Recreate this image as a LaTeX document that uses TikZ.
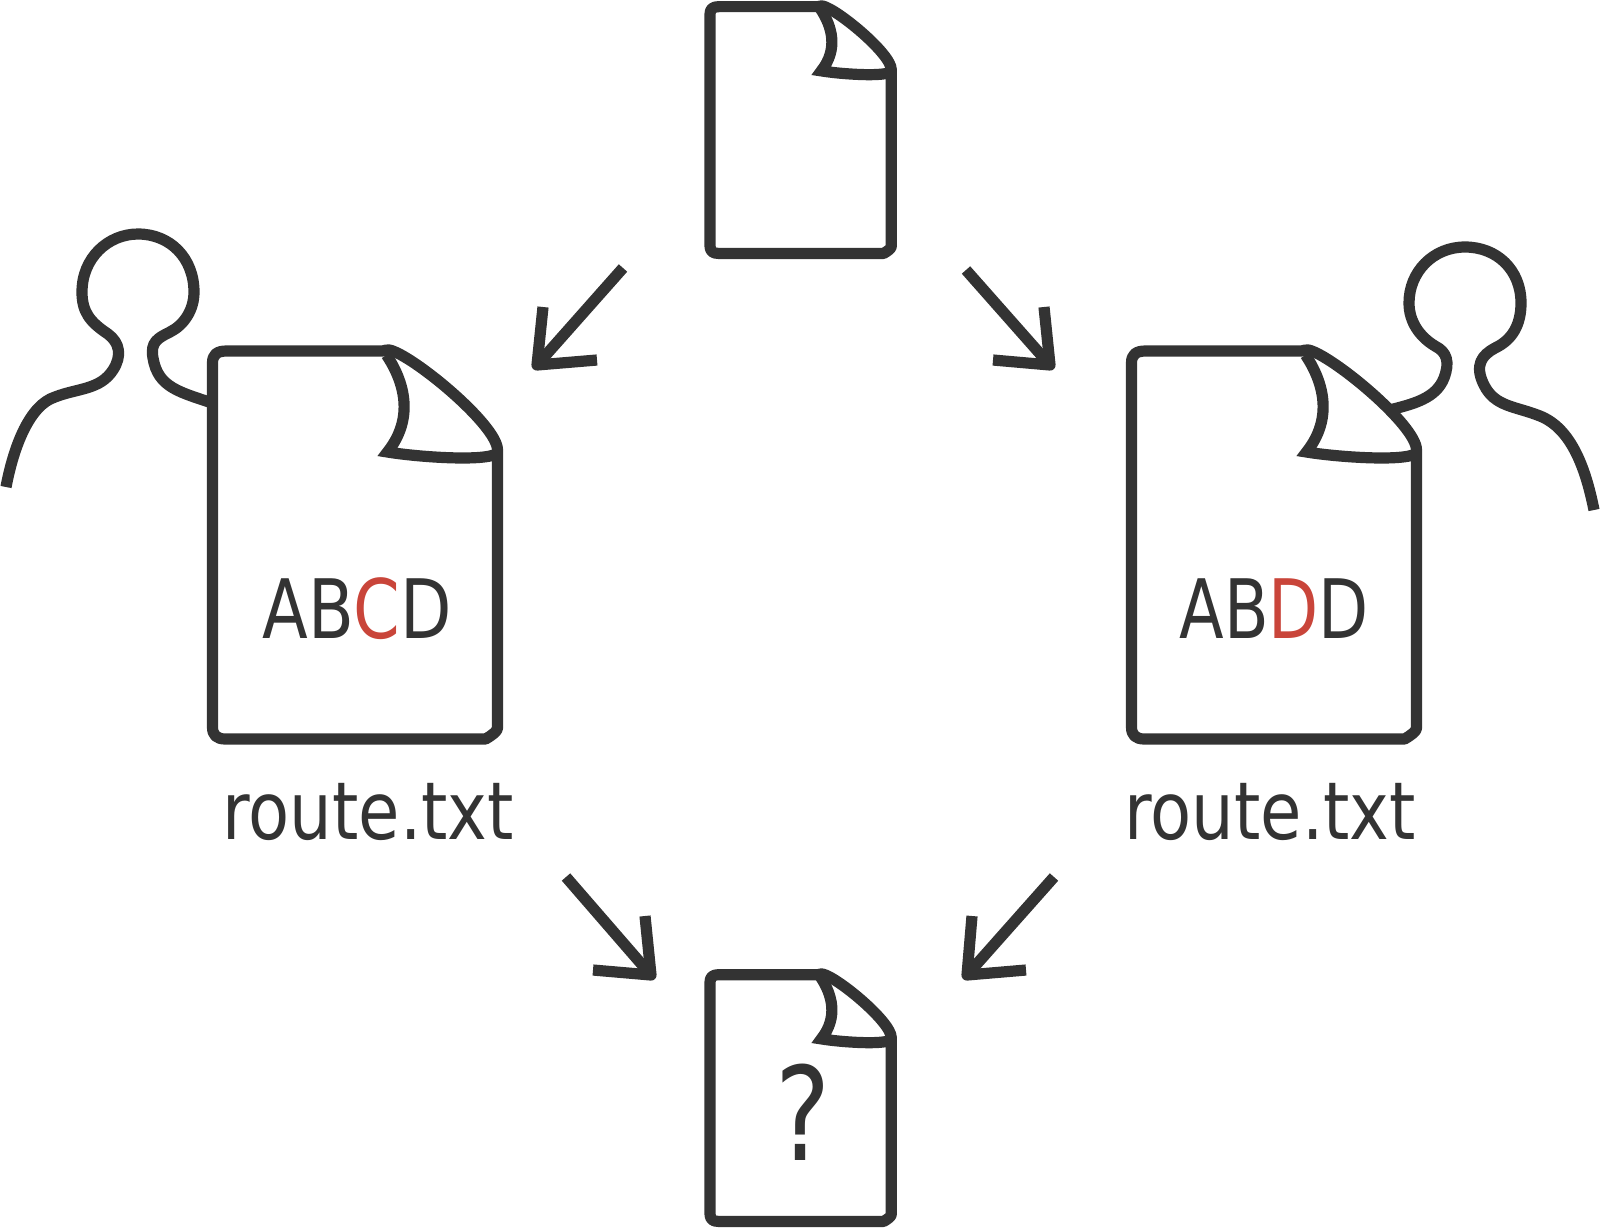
\documentclass[tikz,border=0pt]{standalone}
\usepackage{fontspec}
\setmainfont{DejaVu Sans}
\definecolor{ink}{HTML}{333333}
\definecolor{mark}{HTML}{C9453A}
\tikzset{
  stroke/.style={draw=ink,line width=5.6pt},
  docfile/.pic={
    \path[stroke,fill=white,line join=round]
      (0,13) .. controls (0,5) and (4,1) .. (14,1) -- (170,1)
      .. controls (172,0) and (175,0) .. (177,0)
      .. controls (200,5) and (285,75) .. (285,100)
      -- (285,378) .. controls (285,381) and (280,385) .. (273,389)
      -- (13,389) .. controls (4,389) and (0,385) .. (0,377) -- cycle;
    \path[stroke,miter limit=10]
      (174,5) .. controls (192,32) and (202,68) .. (175,102)
      .. controls (205,107) and (275,112) .. (285,103);
  },
  label text/.style={text=ink,inner sep=0pt,font=\fontsize{41pt}{41pt}\selectfont},
  arrow line/.style={stroke,line join=round},
}
\newcommand{\arrowmark}[4]{%
  \path[arrow line] (#2) -- (#1) -- (#3);
  \path[arrow line] (#4) -- (#1);
}
\begin{document}
\begin{tikzpicture}[x=0.5pt,y=-0.5pt]
\useasboundingbox[fill=white] (0,0) rectangle (1600,1227);
% persons
\draw[stroke,line join=round] (6,487) .. controls (14,445) and (30,405) .. (55,397)
  .. controls (78,388) and (100,390) .. (113,370)
  .. controls (122,356) and (120,343) .. (108,334)
  .. controls (90,322) and (82,312) .. (82,292)
  .. controls (82,258) and (108,234) .. (138,234)
  .. controls (170,234) and (194,258) .. (194,292)
  .. controls (194,310) and (184,325) .. (170,332)
  .. controls (158,338) and (150,342) .. (153,358)
  .. controls (158,388) and (180,392) .. (215,404);
\draw[stroke,line join=round] (1594,510) .. controls (1585,465) and (1570,428) .. (1540,416)
  .. controls (1515,406) and (1495,407) .. (1484,385)
  .. controls (1474,365) and (1482,355) .. (1495,348)
  .. controls (1512,340) and (1521,325) .. (1521,303)
  .. controls (1521,270) and (1497,247) .. (1465,247)
  .. controls (1433,247) and (1409,272) .. (1409,303)
  .. controls (1409,322) and (1420,337) .. (1435,346)
  .. controls (1447,352) and (1450,362) .. (1444,378)
  .. controls (1436,398) and (1415,404) .. (1385,411);
% documents
\pic[scale=.636] at (710,6) {docfile};
\pic at (212.5,350) {docfile};
\pic at (1131.5,350) {docfile};
\pic[scale=.636] at (710,974) {docfile};
% texts
\node[label text,anchor=base west] (left abcd) at (262,638)
  {\scalebox{.815}[1]{AB\textcolor{mark}{C}D}};
\node[label text,anchor=base west] (right abdd) at (1179,638)
  {\scalebox{.795}[1]{AB\textcolor{mark}{D}D}};
\node[label text,anchor=base west,font=\fontsize{40pt}{40pt}\selectfont] (left route) at (222,839)
  {\scalebox{.84}[1]{route.txt}};
\node[label text,anchor=base west,font=\fontsize{40pt}{40pt}\selectfont] (right route) at (1124,839)
  {\scalebox{.84}[1]{route.txt}};
\node[label text,anchor=base west,font=\fontsize{65pt}{65pt}\selectfont] (question) at (775,1160)
  {\scalebox{.8}[1]{?}};
% arrows
\coordinate (a1tip) at (537,365); \coordinate (a1p) at (543,307); \coordinate (a1q) at (597,360); \coordinate (a1s) at (623,268);
\coordinate (a2tip) at (1050,365); \coordinate (a2p) at (1044,307); \coordinate (a2q) at (993,360); \coordinate (a2s) at (966,270);
\coordinate (a3tip) at (651,975); \coordinate (a3p) at (645,916); \coordinate (a3q) at (593,970); \coordinate (a3s) at (566,877);
\coordinate (a4tip) at (967,975); \coordinate (a4p) at (972,916); \coordinate (a4q) at (1026,970); \coordinate (a4s) at (1054,877);
\arrowmark{a1tip}{a1p}{a1q}{a1s}
\arrowmark{a2tip}{a2p}{a2q}{a2s}
\arrowmark{a3tip}{a3p}{a3q}{a3s}
\arrowmark{a4tip}{a4p}{a4q}{a4s}
\end{tikzpicture}
\end{document}
